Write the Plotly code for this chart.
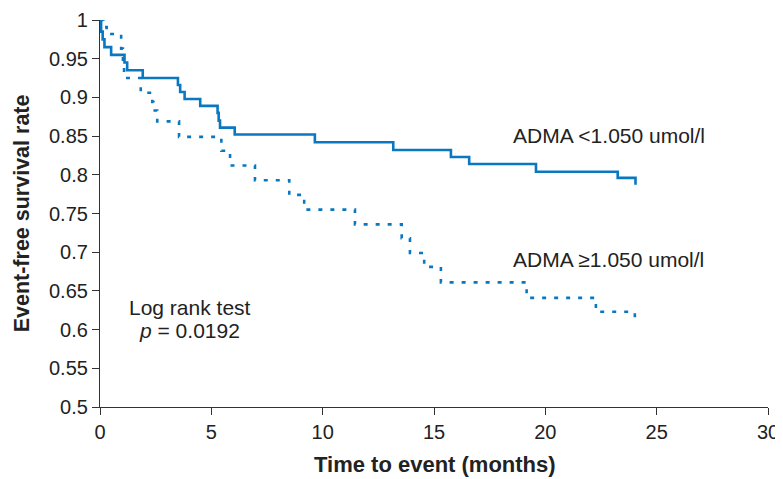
import plotly.graph_objects as go

# Kaplan-Meier steps (time in months, event-free survival rate)
low_time = [0, 0.05, 0.12, 0.2, 0.5, 1.1, 1.22, 1.92, 3.5, 3.6, 3.8, 4.5, 5.28, 5.33, 5.39,
            6.05, 9.65, 13.17, 15.76, 16.58, 19.58, 23.25, 24.05]
low_surv = [1, 0.985, 0.975, 0.965, 0.955, 0.945, 0.935, 0.925, 0.916, 0.907, 0.898, 0.889, 0.880, 0.870, 0.861,
            0.852, 0.842, 0.832, 0.823, 0.814, 0.804, 0.796, 0.787]

high_time = [0, 0.15, 0.3, 0.95, 1.03, 1.08, 1.83, 2.35, 2.4, 2.57, 3.55, 5.45, 5.84, 6.96, 8.5, 9.17,
             11.45, 13.55, 13.92, 14.56, 15.31, 19.16, 22.27, 24.02]
high_surv = [1, 0.991, 0.982, 0.963, 0.944, 0.925, 0.906, 0.894, 0.883, 0.869, 0.849, 0.831, 0.812, 0.793, 0.774, 0.755,
             0.736, 0.718, 0.699, 0.681, 0.661, 0.641, 0.623, 0.609]

x_ticks = [0, 5, 10, 15, 20, 25, 30]
y_ticks = [0.5, 0.55, 0.6, 0.65, 0.7, 0.75, 0.8, 0.85, 0.9, 0.95, 1]
y_tick_text = ["0.5", "0.55", "0.6", "0.65", "0.7", "0.75", "0.8", "0.85", "0.9", "0.95", "1"]

BLUE = "#0a78c0"
FONT = "Liberation Sans, Arial, Helvetica, sans-serif"
TXT = "#222222"

fig = go.Figure()
fig.add_trace(go.Scatter(x=low_time, y=low_surv, mode="lines", line_shape="hv",
                         line=dict(color=BLUE, width=2.6), showlegend=False))
fig.add_trace(go.Scatter(x=high_time, y=high_surv, mode="lines", line_shape="hv",
                         line=dict(color=BLUE, width=2.6, dash="4px,8px"), showlegend=False))

axis_common = dict(showgrid=False, zeroline=False, showline=True, linecolor="#333333", linewidth=1.2,
                   ticks="outside", ticklen=7, tickwidth=1.2, tickcolor="#333333", automargin=False,
                   ticklabeloverflow="allow",
                   tickfont=dict(family=FONT, size=20, color=TXT))

fig.update_xaxes(range=[0, 30], tickvals=x_ticks, **axis_common)
fig.update_yaxes(range=[0.5, 1], tickvals=y_ticks, ticktext=y_tick_text, **axis_common)

fig.add_annotation(x=0.502, y=-0.149, xref="paper", yref="paper", showarrow=False,
                   text="<b>Time to event (months)</b>", font=dict(family=FONT, size=22, color=TXT),
                   xanchor="center", yanchor="middle")
fig.add_annotation(x=-0.117, y=0.5, xref="paper", yref="paper", showarrow=False, textangle=-90,
                   text="<b>Event-free survival rate</b>", font=dict(family=FONT, size=21.5, color=TXT),
                   xanchor="center", yanchor="middle")
fig.add_annotation(x=18.45, y=0.851, xref="x", yref="y", showarrow=False, xanchor="left", yanchor="middle",
                   text="ADMA &lt;1.050 umol/l", font=dict(family=FONT, size=21, color=TXT))
fig.add_annotation(x=18.45, y=0.690, xref="x", yref="y", showarrow=False, xanchor="left", yanchor="middle",
                   text="ADMA ≥1.050 umol/l", font=dict(family=FONT, size=21, color=TXT))
fig.add_annotation(x=4.04, y=0.628, xref="x", yref="y", showarrow=False, xanchor="center", yanchor="middle",
                   text="Log rank test", font=dict(family=FONT, size=21, color=TXT))
fig.add_annotation(x=4.04, y=0.599, xref="x", yref="y", showarrow=False, xanchor="center", yanchor="middle",
                   text="<i>p</i> = 0.0192", font=dict(family=FONT, size=21, color=TXT))

# page body has an 8px margin, so the figure is sized to fit the 783x479 window
fig.update_layout(width=775, height=471, margin=dict(l=92, r=15, t=12, b=72),
                  plot_bgcolor="white", paper_bgcolor="white")

fig.write_html("out.html")
